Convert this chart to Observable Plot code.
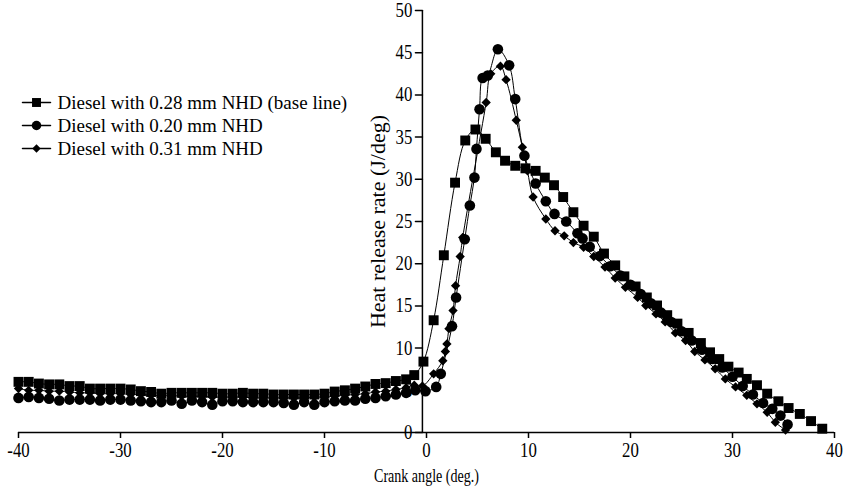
<!DOCTYPE html>
<html><head><meta charset="utf-8">
<script src="https://cdn.jsdelivr.net/npm/d3@7"></script>
<script src="https://cdn.jsdelivr.net/npm/@observablehq/plot@0.6"></script>
<style>
body{margin:0;background:#fff;}
#chart svg{font-family:"Liberation Serif","Times New Roman",serif;}
</style></head><body><div id="chart"></div>
<script>
// ---- data ----
const seriesNames = ["Diesel with 0.28 mm NHD (base line)", "Diesel with 0.20 mm NHD", "Diesel with 0.31 mm NHD"];

const baseAngle = [-40,-39,-38,-37,-36,-35,-34,-33,-32,-31,-30,-29,-28,-27,-26,-25,-24,-23,-22,-21,
  -20,-19,-18,-17,-16,-15,-14,-13,-12,-11,-10,-9,-8,-7,-6,-5,-4,-3,-2,-1.2,-0.3,
  0.7,1.7,2.8,3.8,4.8,5.8,6.8,7.7,8.7,9.7,10.7,11.6,12.5,13.4,14.4,15.4,16.4,17.4,18.5,19.4,
  20.5,21.6,22.6,23.6,24.6,25.7,26.9,27.8,28.7,29.6,30.6,31.4,32.4,33.4,34.5,35.5,36.6,37.7,38.8];
const baseHRR = [6.0,6.0,5.8,5.7,5.7,5.5,5.5,5.2,5.2,5.2,5.2,5.1,4.9,4.8,4.6,4.7,4.7,4.7,4.7,4.7,
  4.6,4.6,4.7,4.6,4.6,4.5,4.5,4.5,4.5,4.5,4.6,4.85,5.0,5.2,5.45,5.75,5.85,6.1,6.3,6.8,8.4,
  13.3,21.0,29.6,34.6,35.9,34.8,33.2,32.2,31.6,31.3,31.0,30.2,29.3,27.9,26.1,24.5,23.2,21.2,19.8,18.5,
  17.3,16.0,15.05,13.9,12.9,11.8,10.6,9.5,8.7,7.8,7.1,6.35,5.6,4.6,3.7,2.9,2.2,1.35,0.45];

const nhd020Angle = [-40,-39,-38,-37,-36,-35,-34,-33,-32,-31,-30,-29,-28,-27,-26,-25,-24,-23,-22,-21,
  -20,-19,-18,-17,-16,-15,-14,-13,-12,-11,-10,-9,-8,-7,-6,-5,-4,-3,-2,-1.1,-0.1,
  0.95,1.4,2.5,2.9,3.75,4.25,4.7,4.9,5.2,5.5,6.0,7.0,8.1,8.7,9.6,10.7,11.7,12.55,13.7,14.8,15.3,16.0,
  17,18,19,20,21,22,23,24,25,26,27,28,29,30,31,32,33,33.9,34.7,35.4];
const nhd020HRR = [4.1,4.2,4.1,4.0,3.8,3.9,3.9,3.9,3.8,3.9,3.9,3.8,3.7,3.6,3.6,3.8,3.4,3.8,3.6,3.3,
  3.7,3.7,3.6,3.6,3.6,3.6,3.5,3.3,3.6,3.3,3.6,3.7,3.8,3.8,4.0,4.1,4.3,4.5,4.7,5.0,4.9,
  5.4,6.95,12.6,16.0,22.9,26.9,30.2,33.6,38.3,42.0,42.3,45.4,43.5,39.5,32.8,29.5,27.4,25.9,25.0,23.6,23.0,22.0,
  20.9,19.7,18.6,17.5,16.4,15.3,14.2,13.1,12.0,10.9,9.8,8.7,7.7,6.6,5.5,4.5,3.5,2.8,2.0,0.95];

const nhd031Angle = [-40,-39,-38,-37,-36,-35,-34,-33,-32,-31,-30,-29,-28,-27,-26,-25,-24,-23,-22,-21,
  -20,-19,-18,-17,-16,-15,-14,-13,-12,-11,-10,-9,-8,-7,-6,-5,-4,-3,-2,-1.2,-0.4,
  0.7,1.6,1.85,2.0,2.2,2.6,2.85,3.3,3.55,5.85,6.3,7.25,7.8,8.8,9.4,9.9,10.45,11.7,12.6,13.5,14.4,15.4,16.4,
  17.5,18.5,19.5,20.7,21.5,22.5,23.4,24.4,25.4,26.3,27.3,28.3,29.3,30.3,31.4,32.4,33.4,34.2,35.2];
const nhd031HRR = [5.2,5.0,5.0,4.9,4.9,4.8,4.7,4.7,4.6,4.6,4.6,4.5,4.5,4.4,4.4,4.4,4.3,4.3,4.3,4.2,
  4.2,4.2,4.2,4.1,4.1,4.1,4.1,4.1,4.1,4.2,4.2,4.3,4.4,4.5,4.6,4.8,4.9,5.1,5.3,5.6,5.5,
  6.95,8.5,9.6,10.5,12.3,14.45,17.4,20.85,23.1,39.1,42.5,43.4,41.8,37.0,33.8,31.0,27.9,25.3,23.9,23.3,22.5,21.95,20.85,
  19.6,18.3,17.2,16.0,15.05,14.05,13.1,11.8,10.9,9.6,8.6,7.55,6.35,5.4,4.4,3.4,2.4,1.2,0.3];

const xTicks = [-40,-30,-20,-10,0,10,20,30,40];
const yTicks = [0,5,10,15,20,25,30,35,40,45,50];
const xLabel = "Crank angle (deg.)";
const yLabel = "Heat release rate (J/deg)";

// ---- build ----
const series = [
  {name: seriesNames[0], angle: baseAngle, hrr: baseHRR, symbol: "square", r: 5.6},
  {name: seriesNames[1], angle: nhd020Angle, hrr: nhd020HRR, symbol: "circle", r: 5.3},
  {name: seriesNames[2], angle: nhd031Angle, hrr: nhd031HRR, symbol: "diamond2", r: 4.2}
];
const rowsOf = s => s.angle.map((a, i) => ({name: s.name, angle: a, hrr: s.hrr[i]}));
const yAxisAt = -0.4;
const line = {draw(ctx, l) { ctx.moveTo(0, 0); ctx.lineTo(0, -l); }};

const marks = [
  Plot.ruleY([0], {stroke: "black", strokeWidth: 1.5}),
  Plot.axisX({ticks: xTicks, tickSize: 6, tickPadding: 4, fontSize: 20, label: null, tickFormat: d => String(d), strokeWidth: 1.5, className: "sq"}),
  Plot.ruleX([yAxisAt], {y1: 0, y2: 50, stroke: "black", strokeWidth: 1.5}),
  Plot.vector(yTicks, {x: yAxisAt, y: d => d, rotate: -90, length: 7, anchor: "start", shape: line, stroke: "black", strokeWidth: 1.5}),
  Plot.text(yTicks, {x: yAxisAt, y: d => d, text: d => String(d), dx: -10, textAnchor: "end", fontSize: 20, fill: "black", className: "sq"}),
  Plot.text([yLabel], {x: yAxisAt, y: 25, dx: -44, rotate: -90, fontSize: 22, fill: "black"}),
  Plot.text([xLabel], {frameAnchor: "bottom", lineAnchor: "middle", dy: 43, fontSize: 19, fill: "black", className: "sq2"})
];
for (const s of series) {
  marks.push(Plot.line(rowsOf(s), {x: "angle", y: "hrr", curve: "catmull-rom", stroke: "black", strokeWidth: 1}));
}
for (const s of [series[0], series[2], series[1]]) {
  marks.push(Plot.dot(rowsOf(s), {x: "angle", y: "hrr", symbol: () => s.symbol, r: s.r, fill: "black", stroke: "none"}));
}
// legend
series.forEach((s, i) => {
  const dy = 92 + 23 * i;
  marks.push(Plot.vector([s.name], {frameAnchor: "top-left", dx: 4, dy, rotate: 90, length: 28, anchor: "start", shape: line, stroke: "black", strokeWidth: 1.5}));
  marks.push(Plot.dot([s.name], {frameAnchor: "top-left", dx: 18, dy, symbol: () => s.symbol, r: s.r * 0.9, fill: "black", stroke: "none"}));
  marks.push(Plot.text([s.name], {frameAnchor: "top-left", lineAnchor: "middle", dx: 39, dy, text: d => d, textAnchor: "start", fontSize: 19, fill: "black"}));
});

const chart = Plot.plot({
  width: 850, height: 491,
  marginLeft: 18, marginRight: 16, marginTop: 10, marginBottom: 59,
  x: {domain: [-40, 40], axis: null},
  y: {domain: [0, 50], axis: null},
  symbol: {type: "identity"},
  style: {fontFamily: "'Liberation Serif', 'Times New Roman', serif", background: "white", color: "black"},
  marks
});
document.getElementById("chart").appendChild(chart);

// glyphs in the reference are narrower than they are tall: squeeze those texts horizontally
function squeeze(sel, k) {
  chart.querySelectorAll(sel).forEach(t => {
    const w = t.getComputedTextLength();
    if (w > 0) {
      t.setAttribute("textLength", (w * k).toFixed(2));
      t.setAttribute("lengthAdjust", "spacingAndGlyphs");
    }
  });
}
squeeze(".sq text", 0.84);
squeeze(".sq2 text", 0.74);
</script></body></html>
